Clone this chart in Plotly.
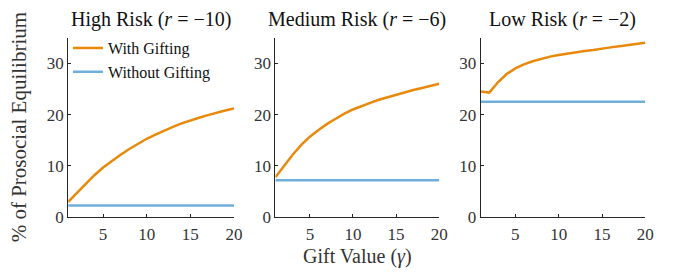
import plotly.graph_objects as go

gift = list(range(1, 21))
high_with = [3.0, 4.8, 6.6, 8.2, 9.7, 11.0, 12.2, 13.3, 14.3, 15.3, 16.1, 16.9, 17.6, 18.3, 18.9, 19.4, 19.9, 20.4, 20.8, 21.2]
high_without = [2.3] * 20
med_with = [7.8, 10.0, 12.2, 14.1, 15.7, 17.0, 18.2, 19.2, 20.2, 21.0, 21.7, 22.3, 22.9, 23.4, 23.9, 24.4, 24.8, 25.2, 25.6, 26.0]
med_without = [7.2] * 20
low_with = [24.5, 24.3, 26.3, 27.9, 29.0, 29.8, 30.4, 30.9, 31.3, 31.6, 31.9, 32.2, 32.4, 32.6, 32.9, 33.1, 33.3, 33.5, 33.8, 34.0]
low_without = [22.5] * 20

titles = ["High Risk (<i>r</i> = −10)", "Medium Risk (<i>r</i> = −6)", "Low Risk (<i>r</i> = −2)"]
x_ticks = [5, 10, 15, 20]
y_ticks = [0, 10, 20, 30]

ORANGE = "#E8890C"
BLUE = "#6FAEDB"
FONT = "Liberation Serif"
AX = "#262626"

series = [(high_with, high_without), (med_with, med_without), (low_with, low_without)]
domains = [(0.0904, 0.3393), (0.4015, 0.6474), (0.7096, 0.957)]
ydom = (0.201, 0.887)

fig = go.Figure()
for i, (w, wo) in enumerate(series):
    xa = "x" if i == 0 else f"x{i+1}"
    ya = "y" if i == 0 else f"y{i+1}"
    fig.add_trace(go.Scatter(x=gift, y=w, mode="lines", line=dict(color=ORANGE, width=2.5),
                             name="With Gifting", showlegend=(i == 0), xaxis=xa, yaxis=ya))
    fig.add_trace(go.Scatter(x=gift, y=wo, mode="lines", line=dict(color=BLUE, width=2.5),
                             name="Without Gifting", showlegend=(i == 0), xaxis=xa, yaxis=ya))

axis_common = dict(showline=True, linecolor=AX, linewidth=1, ticks="inside", ticklen=3,
                   tickcolor=AX, showgrid=False, zeroline=False,
                   tickfont=dict(family=FONT, size=17, color="#333333"))
layout = {}
for i in range(3):
    xk = "xaxis" if i == 0 else f"xaxis{i+1}"
    yk = "yaxis" if i == 0 else f"yaxis{i+1}"
    layout[xk] = dict(domain=list(domains[i]), range=[1, 20], tickvals=x_ticks,
                      ticklabelstandoff=1,
                      anchor="y" if i == 0 else f"y{i+1}", **axis_common)
    layout[yk] = dict(domain=list(ydom), range=[0, 35], tickvals=y_ticks,
                      anchor="x" if i == 0 else f"x{i+1}", **axis_common)

annotations = []
for i in range(3):
    annotations.append(dict(text=titles[i], x=(domains[i][0] + domains[i][1]) / 2, y=1 - 12 / 272,
                            xref="paper", yref="paper", showarrow=False, xanchor="center", yanchor="middle",
                            font=dict(family=FONT, size=20, color="#111111")))
annotations.append(dict(text="Gift Value (<i>γ</i>)", x=(domains[1][0] + domains[1][1]) / 2, y=1 - 258 / 272,
                        xref="paper", yref="paper", showarrow=False, xanchor="center", yanchor="middle",
                        font=dict(family=FONT, size=20, color="#333333")))
annotations.append(dict(text="% of Prosocial Equilibrium", x=12 / 675, y=(ydom[0] + ydom[1]) / 2,
                        xref="paper", yref="paper", showarrow=False, xanchor="center", yanchor="middle",
                        textangle=-90, font=dict(family=FONT, size=21, color="#333333")))

fig.update_layout(
    width=675, height=272, autosize=False,
    margin=dict(l=0, r=0, t=0, b=0),
    paper_bgcolor="white", plot_bgcolor="white",
    annotations=annotations,
    legend=dict(x=0.09, y=0.912, xanchor="left", yanchor="top", bgcolor="rgba(0,0,0,0)",
                font=dict(family=FONT, size=16, color="#111111"), tracegroupgap=0, itemwidth=30),
    **layout,
)

fig.write_html("out.html")
